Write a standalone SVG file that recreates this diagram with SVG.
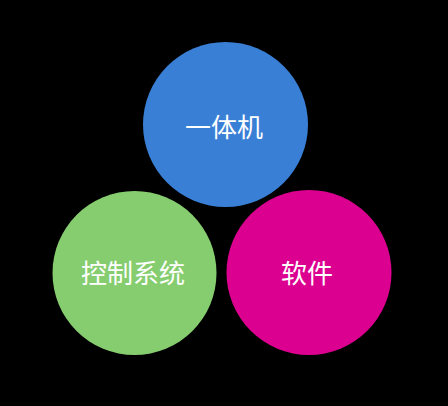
<svg xmlns="http://www.w3.org/2000/svg" width="448" height="406" viewBox="0 0 448 406">
<style>
.lbl{font-family:"Noto Sans CJK SC","Noto Sans",sans-serif;font-size:26px;fill:#ffffff;text-anchor:middle}
</style>
<rect x="0" y="0" width="448" height="406" fill="#000000"/>
<g id="connectors"></g>
<g id="node-yitiji">
<circle cx="225.5" cy="124.5" r="82.5" fill="#3a7fd6"/>
<text class="lbl" x="224" y="137">一体机</text>
</g>
<g id="node-kongzhi">
<circle cx="134.5" cy="273" r="82" fill="#86cd70"/>
<text class="lbl" x="133" y="283">控制系统</text>
</g>
<g id="node-ruanjian">
<circle cx="309" cy="272.5" r="82.5" fill="#dc0090"/>
<text class="lbl" x="307" y="283">软件</text>
</g>
</svg>
